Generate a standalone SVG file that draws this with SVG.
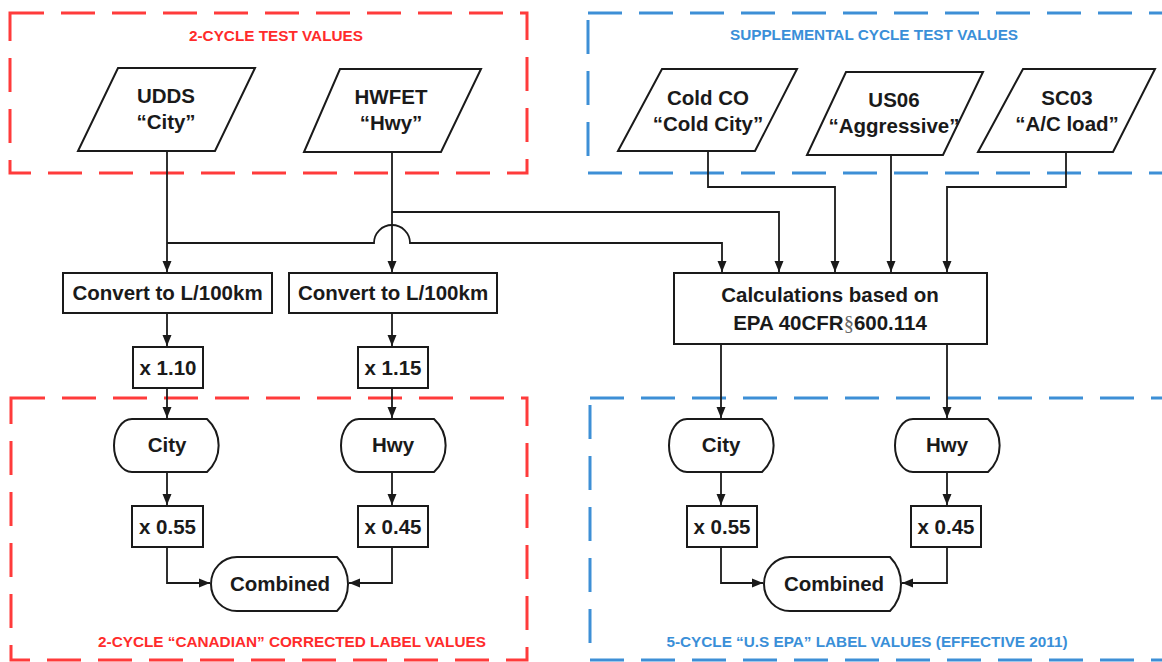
<svg xmlns="http://www.w3.org/2000/svg" width="1162" height="662" viewBox="0 0 1162 662">
<style>
.red{fill:none;stroke:#ff3b3b;stroke-width:3;stroke-dasharray:34 17}
.blue{fill:none;stroke:#3d8fd6;stroke-width:3;stroke-dasharray:34 17}
.tr{font-family:"Liberation Sans",Arial,sans-serif;font-weight:bold;font-size:15.3px;fill:#ff2b2b;text-anchor:middle}
.tb{font-family:"Liberation Sans",Arial,sans-serif;font-weight:bold;font-size:15.3px;fill:#3a8fd8;text-anchor:middle}
.shape{fill:#fff;stroke:#1a1a1a;stroke-width:2}
.t{font-family:"Liberation Sans",Arial,sans-serif;font-weight:bold;font-size:20.5px;fill:#1a1a1a;text-anchor:middle}
.c{fill:none;stroke:#1a1a1a;stroke-width:1.8}
</style>
<defs>
<marker id="ah" markerUnits="userSpaceOnUse" markerWidth="12" markerHeight="12" viewBox="0 0 12 12" refX="11" refY="6" orient="auto">
<path d="M0,1.5 L11,6 L0,10.5 Z" fill="#1a1a1a"/>
</marker>
</defs>

<g id="groups">
<rect class="red" x="10" y="13" width="517" height="160"/>
<rect class="blue" x="588" y="13" width="600" height="160"/>
<rect class="red" x="11" y="398" width="516" height="262"/>
<rect class="blue" x="590" y="398" width="600" height="262"/>
<text class="tr" x="276" y="41">2-CYCLE TEST VALUES</text>
<text class="tb" x="874" y="40">SUPPLEMENTAL CYCLE TEST VALUES</text>
<text class="tr" x="292" y="647">2-CYCLE “CANADIAN” CORRECTED LABEL VALUES</text>
<text class="tb" x="867" y="647">5-CYCLE “U.S EPA” LABEL VALUES (EFFECTIVE 2011)</text>
</g>

<g id="connectors">
<path class="c" d="M167,151 V272" marker-end="url(#ah)"/>
<path class="c" d="M392,152 V272" marker-end="url(#ah)"/>
<path class="c" d="M167,243 H374 A18,18 0 0 1 410,243 H722 V272" marker-end="url(#ah)"/>
<path class="c" d="M392,212 H779 V272" marker-end="url(#ah)"/>
<path class="c" d="M708,151 V187 H835 V272" marker-end="url(#ah)"/>
<path class="c" d="M891,155 V272" marker-end="url(#ah)"/>
<path class="c" d="M1066,152 V187 H947 V272" marker-end="url(#ah)"/>
<path class="c" d="M167,313 V346" marker-end="url(#ah)"/>
<path class="c" d="M392,313 V346" marker-end="url(#ah)"/>
<path class="c" d="M167,388 V418" marker-end="url(#ah)"/>
<path class="c" d="M392,388 V418" marker-end="url(#ah)"/>
<path class="c" d="M167,472 V505" marker-end="url(#ah)"/>
<path class="c" d="M392,472 V505" marker-end="url(#ah)"/>
<path class="c" d="M167,547 V583 H210" marker-end="url(#ah)"/>
<path class="c" d="M392,547 V583 H349" marker-end="url(#ah)"/>
<path class="c" d="M721,344 V418" marker-end="url(#ah)"/>
<path class="c" d="M947,344 V418" marker-end="url(#ah)"/>
<path class="c" d="M721,472 V505" marker-end="url(#ah)"/>
<path class="c" d="M947,472 V505" marker-end="url(#ah)"/>
<path class="c" d="M721,547 V583 H763" marker-end="url(#ah)"/>
<path class="c" d="M947,547 V583 H902" marker-end="url(#ah)"/>
</g>

<g id="udds">
<polygon class="shape" points="118,68 255,68 215,151 78,151"/>
<text class="t" x="166" y="103">UDDS</text>
<text class="t" x="166" y="129">“City”</text>
</g>
<g id="hwfet">
<polygon class="shape" points="340,69 481,69 441,152 304,152"/>
<text class="t" x="391" y="104">HWFET</text>
<text class="t" x="391" y="130">“Hwy”</text>
</g>
<g id="coldco">
<polygon class="shape" points="662,69 797,69 755,151 618,151"/>
<text class="t" x="708" y="105">Cold CO</text>
<text class="t" x="708" y="131">“Cold City”</text>
</g>
<g id="us06">
<polygon class="shape" points="846,72 983,72 943,155 807,155"/>
<text class="t" x="894" y="107">US06</text>
<text class="t" x="894" y="133">“Aggressive”</text>
</g>
<g id="sc03">
<polygon class="shape" points="1023,69 1155,69 1113,152 978,152"/>
<text class="t" x="1067" y="105">SC03</text>
<text class="t" x="1067" y="131">“A/C load”</text>
</g>

<g id="convert1">
<rect class="shape" x="63" y="273" width="209" height="40"/>
<text class="t" x="167.5" y="300">Convert to L/100km</text>
</g>
<g id="convert2">
<rect class="shape" x="289" y="273" width="208" height="40"/>
<text class="t" x="393" y="300">Convert to L/100km</text>
</g>
<g id="calc">
<rect class="shape" x="674" y="273" width="313" height="71"/>
<text class="t" x="830" y="302">Calculations based on</text>
<text class="t" x="830" y="330">EPA 40CFR<tspan style="font-family:'Liberation Serif',serif;font-weight:normal;fill:#666">§</tspan>600.114</text>
</g>

<g id="x110">
<rect class="shape" x="133" y="347" width="70" height="41"/>
<text class="t" x="168" y="375">x 1.10</text>
</g>
<g id="x115">
<rect class="shape" x="358" y="347" width="70" height="41"/>
<text class="t" x="393" y="375">x 1.15</text>
</g>

<g id="city1">
<path class="shape" d="M132,419 H207 A36,36 0 0 1 207,472 H132 A18,26.5 0 0 1 132,419 Z"/>
<text class="t" x="167" y="452">City</text>
</g>
<g id="hwy1">
<path class="shape" d="M359,419 H434 A36,36 0 0 1 434,472 H359 A18,26.5 0 0 1 359,419 Z"/>
<text class="t" x="393" y="452">Hwy</text>
</g>
<g id="city2">
<path class="shape" d="M687,419 H762 A36,36 0 0 1 762,472 H687 A18,26.5 0 0 1 687,419 Z"/>
<text class="t" x="721" y="452">City</text>
</g>
<g id="hwy2">
<path class="shape" d="M913,419 H988 A36,36 0 0 1 988,472 H913 A18,26.5 0 0 1 913,419 Z"/>
<text class="t" x="947" y="452">Hwy</text>
</g>

<g id="x055a">
<rect class="shape" x="132" y="506" width="71" height="41"/>
<text class="t" x="167.5" y="534">x 0.55</text>
</g>
<g id="x045a">
<rect class="shape" x="358" y="506" width="70" height="41"/>
<text class="t" x="393" y="534">x 0.45</text>
</g>
<g id="x055b">
<rect class="shape" x="687" y="506" width="70" height="41"/>
<text class="t" x="722" y="534">x 0.55</text>
</g>
<g id="x045b">
<rect class="shape" x="911" y="506" width="70" height="41"/>
<text class="t" x="946" y="534">x 0.45</text>
</g>

<g id="combined1">
<path class="shape" d="M237,557 H337 A38.6,38.6 0 0 1 337,611 H237 A26,27 0 0 1 237,557 Z"/>
<text class="t" x="280" y="591">Combined</text>
</g>
<g id="combined2">
<path class="shape" d="M790,557 H890 A38.6,38.6 0 0 1 890,611 H790 A26,27 0 0 1 790,557 Z"/>
<text class="t" x="834" y="591">Combined</text>
</g>
</svg>
